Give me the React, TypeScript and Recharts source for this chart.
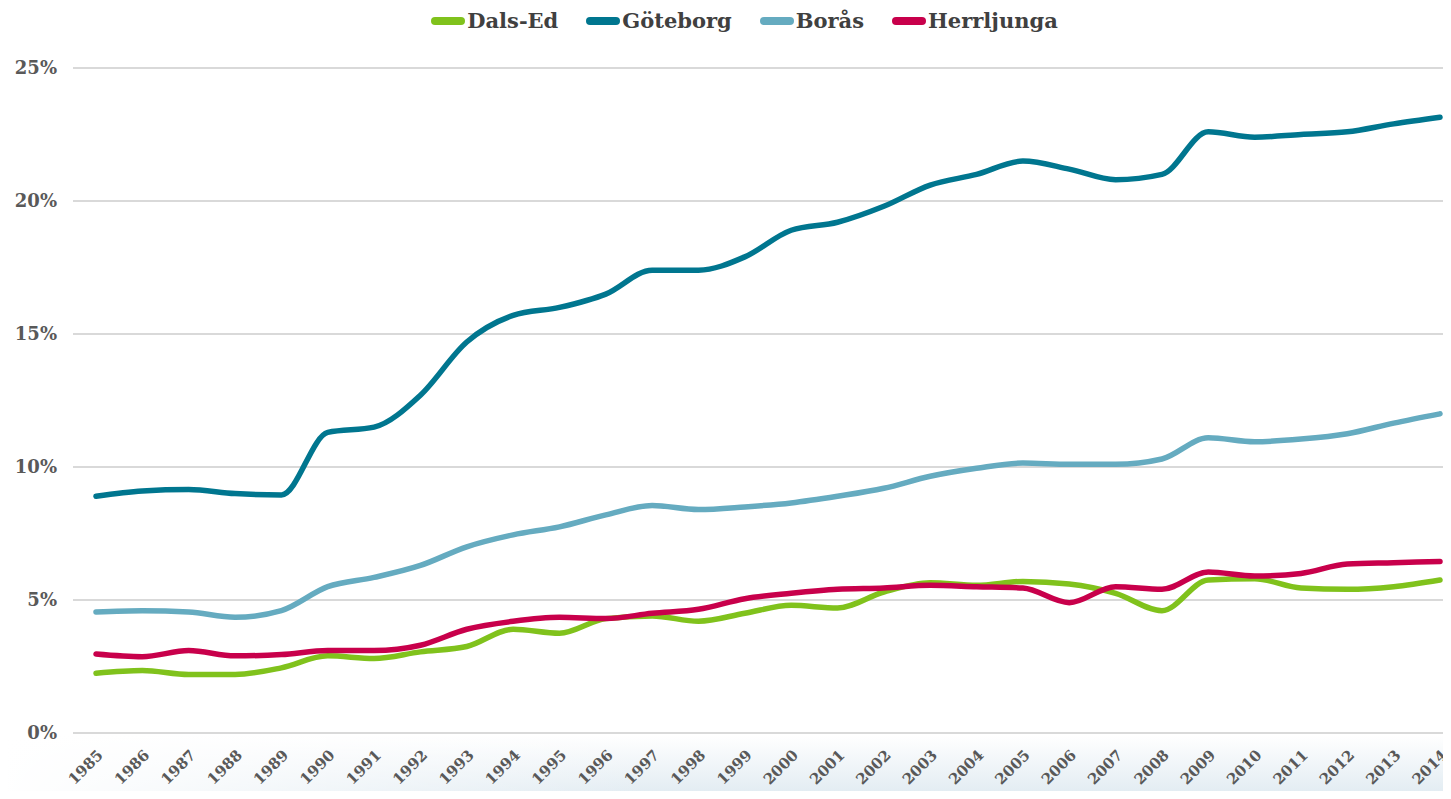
import React from "react";
import { LineChart, Line, XAxis, YAxis, CartesianGrid } from "recharts";

const years = [
  "1985", "1986", "1987", "1988", "1989", "1990", "1991", "1992", "1993", "1994",
  "1995", "1996", "1997", "1998", "1999", "2000", "2001", "2002", "2003", "2004",
  "2005", "2006", "2007", "2008", "2009", "2010", "2011", "2012", "2013", "2014",
];

const dalsEd = [
  2.25, 2.35, 2.2, 2.2, 2.45, 2.9, 2.8, 3.05, 3.25, 3.9,
  3.75, 4.3, 4.4, 4.2, 4.5, 4.8, 4.7, 5.3, 5.65, 5.55,
  5.7, 5.6, 5.25, 4.6, 5.75, 5.8, 5.45, 5.4, 5.5, 5.75,
];

const goteborg = [
  8.9, 9.1, 9.15, 9.0, 8.95, 11.3, 11.5, 12.7, 14.7, 15.7,
  16.0, 16.5, 17.4, 17.4, 17.9, 18.9, 19.2, 19.8, 20.6, 21.0,
  21.5, 21.2, 20.8, 21.0, 22.6, 22.4, 22.5, 22.6, 22.9, 23.15,
];

const boras = [
  4.55, 4.6, 4.55, 4.35, 4.6, 5.5, 5.85, 6.3, 7.0, 7.45,
  7.75, 8.2, 8.55, 8.4, 8.5, 8.65, 8.9, 9.2, 9.65, 9.95,
  10.15, 10.1, 10.1, 10.3, 11.1, 10.95, 11.05, 11.25, 11.65, 12.0,
];

const herrljunga = [
  2.97, 2.87, 3.1, 2.9, 2.95, 3.1, 3.1, 3.3, 3.9, 4.2,
  4.35, 4.3, 4.5, 4.65, 5.05, 5.25, 5.4, 5.45, 5.55, 5.5,
  5.45, 4.9, 5.5, 5.4, 6.05, 5.9, 6.0, 6.35, 6.4, 6.45,
];

const yTicks = [0, 5, 10, 15, 20, 25];

const seriesDefs = [
  { key: "Dals-Ed", values: dalsEd, color: "#80c21c" },
  { key: "Göteborg", values: goteborg, color: "#00768f" },
  { key: "Borås", values: boras, color: "#65abc0" },
  { key: "Herrljunga", values: herrljunga, color: "#c8004b" },
];

const data = years.map((y, i) => {
  const row: Record<string, number | string> = { year: y };
  seriesDefs.forEach((s) => {
    row[s.key] = s.values[i];
  });
  return row;
});

const FONT = "'DejaVu Serif', serif";

const XTick = (props: any) => {
  const { x, y, payload } = props;
  return (
    <g transform={`translate(${x + 8},${y + 15})`}>
      <text
        x={0}
        y={0}
        transform="rotate(-45)"
        textAnchor="end"
        fontFamily={FONT}
        fontWeight="bold"
        fontSize={15}
        fill="#595959"
      >
        {payload.value}
      </text>
    </g>
  );
};

export default function App() {
  return (
    <div
      style={{
        position: "relative",
        margin: -8,
        width: 1451,
        height: 799,
        overflow: "hidden",
        background: "#fff",
      }}
    >
      <div
        style={{
          position: "absolute",
          left: 0,
          top: 735,
          width: 1451,
          height: 64,
          background:
            "linear-gradient(to right, rgba(255,255,255,1) 0%, rgba(255,255,255,0) 45%), linear-gradient(to bottom, #ffffff 0%, #dfeaf1 100%)",
        }}
      />
      <div
        style={{
          position: "absolute",
          top: 8,
          left: 0,
          width: 1489,
          display: "flex",
          justifyContent: "center",
          alignItems: "center",
          gap: 28,
          fontFamily: FONT,
          fontWeight: "bold",
          fontSize: 21,
          color: "#404040",
          lineHeight: "26px",
        }}
      >
        {seriesDefs.map((s) => (
          <div key={s.key} style={{ display: "flex", alignItems: "center" }}>
            <div
              style={{
                width: 34,
                height: 8,
                borderRadius: 4,
                background: s.color,
                marginRight: 2,
              }}
            />
            <span>{s.key}</span>
          </div>
        ))}
      </div>
      <div style={{ position: "absolute", left: 0, top: 0 }}>
        <LineChart
          width={1463}
          height={799}
          data={data}
          margin={{ top: 68, right: 0, bottom: 0, left: 0 }}
        >
          <CartesianGrid vertical={false} stroke="#d9d9d9" strokeWidth={2} />
          <XAxis
            dataKey="year"
            scale="point"
            padding={{ left: 23, right: 23 }}
            axisLine={false}
            tickLine={false}
            interval={0}
            height={66}
            tick={<XTick />}
          />
          <YAxis
            domain={[0, 25]}
            ticks={yTicks}
            width={73}
            axisLine={false}
            tickLine={false}
            tickFormatter={(v: number) => `${v}%`}
            tick={{
              fontFamily: FONT,
              fontWeight: "bold",
              fontSize: 18,
              fill: "#595959",
              dx: -8,
            }}
          />
          {seriesDefs.map((s) => (
            <Line
              key={s.key}
              type="monotone"
              dataKey={s.key}
              stroke={s.color}
              strokeWidth={5.5}
              dot={false}
              activeDot={false}
              isAnimationActive={false}
              strokeLinecap="round"
            />
          ))}
        </LineChart>
      </div>
    </div>
  );
}
